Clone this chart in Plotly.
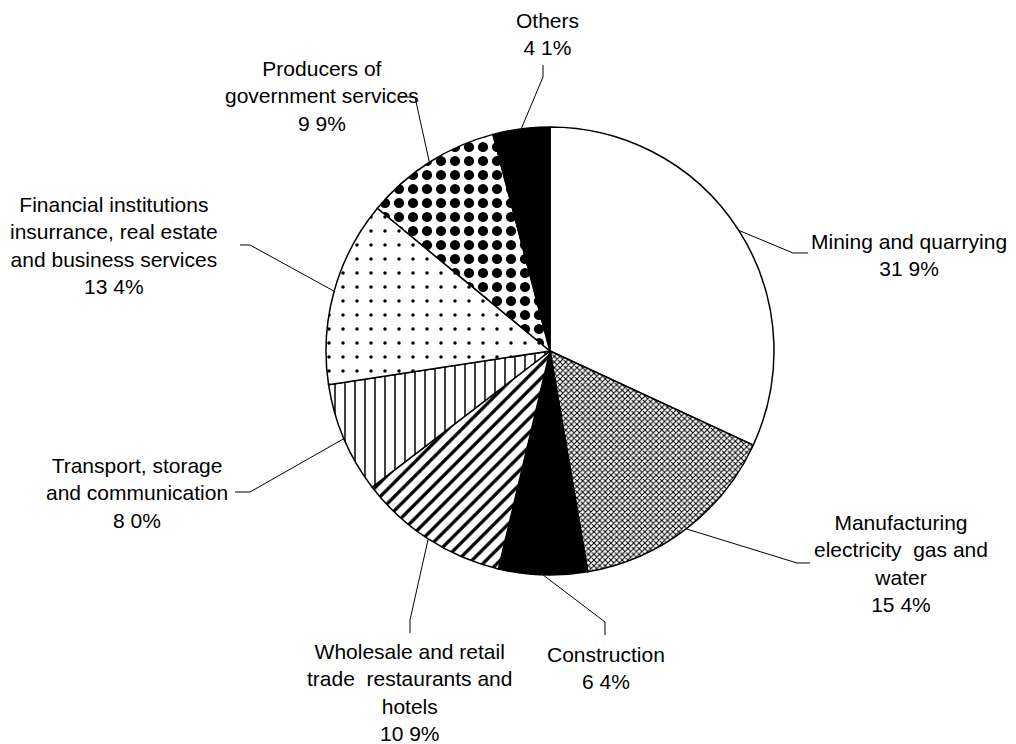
import math
import plotly.graph_objects as go

# ---- data ----
sectors = ["Mining and quarrying",
           "Manufacturing electricity gas and water",
           "Construction",
           "Wholesale and retail trade restaurants and hotels",
           "Transport, storage and communication",
           "Financial institutions insurrance, real estate and business services",
           "Producers of government services",
           "Others"]
shares = [31.9, 15.4, 6.4, 10.9, 8.0, 13.4, 9.9, 4.1]
label_texts = ["Mining and quarrying<br>31 9%",
               "Manufacturing<br>electricity  gas and<br>water<br>15 4%",
               "Construction<br>6 4%",
               "Wholesale and retail<br>trade  restaurants and<br>hotels<br>10 9%",
               "Transport, storage<br>and communication<br>8 0%",
               "Financial institutions<br>insurrance, real estate<br>and business services<br>13 4%",
               "Producers of<br>government services<br>9 9%",
               "Others<br>4 1%"]

# ---- styling ----
W, H = 1016, 744
CX, CY, R = 550, 351, 224
fills = ["white", "white", "black", "white", "white", "white", "white", "black"]
pat_shape = ["", "x", "", "/", "|", ".", ".", ""]
pat_size = [8, 4, 8, 10, 10, 14, 14, 8]
pat_solid = [0.3, 0.45, 0.3, 0.33, 0.15, 0.05, 0.42, 0.3]

# label block centres and leader elbows (pixels)
label_pos = [(909, 255), (901, 563), (606, 668), (409, 692),
             (137, 493), (114, 245), (322, 96), (547, 34)]
elbows = [[(793, 253), (808, 253)],
          [(797, 563), (810, 563)],
          [(605, 622), (605, 635)],
          [(410, 620), (410, 633)],
          [(250, 492), (235, 492)],
          [(250, 245), (240, 245)],
          [(415, 97), (400, 97)],
          [(543, 77), (543, 65)]]

def px(x):
    return x / W

def py(y):
    return 1 - y / H

fig = go.Figure(go.Pie(
    labels=sectors, values=shares, sort=False, direction="clockwise",
    rotation=0, textinfo="none", hoverinfo="label+percent",
    marker=dict(colors=fills, pattern=dict(
        shape=pat_shape, size=pat_size, solidity=pat_solid,
        fgcolor="black"),
        line=dict(color="black", width=1.5)),
    domain=dict(x=[px(CX - R), px(CX + R)], y=[py(CY + R), py(CY - R)]),
    showlegend=False,
))

total = sum(shares)
cum = 0.0
shapes = []
annotations = []
for i, v in enumerate(shares):
    mid = (cum + v / 2) / total * 2 * math.pi
    cum += v
    ex = CX + R * math.sin(mid)
    ey = CY - R * math.cos(mid)
    pts = [(ex, ey)] + elbows[i]
    path = "M " + " L ".join(f"{px(x):.5f},{py(y):.5f}" for x, y in pts)
    shapes.append(dict(type="path", xref="paper", yref="paper", path=path,
                       line=dict(color="black", width=1)))
    lx, ly = label_pos[i]
    annotations.append(dict(x=px(lx), y=py(ly), xref="paper", yref="paper",
                            text=label_texts[i], showarrow=False,
                            xanchor="center", yanchor="middle", align="center",
                            font=dict(family="Liberation Sans, Arial", size=21,
                                      color="black")))

fig.update_layout(width=W, height=H, margin=dict(l=0, r=0, t=0, b=0),
                  paper_bgcolor="white", plot_bgcolor="white",
                  shapes=shapes, annotations=annotations)
fig.write_html("out.html", config={"displayModeBar": False},
               post_script="document.body.style.margin='0';document.body.style.overflow='hidden';")
